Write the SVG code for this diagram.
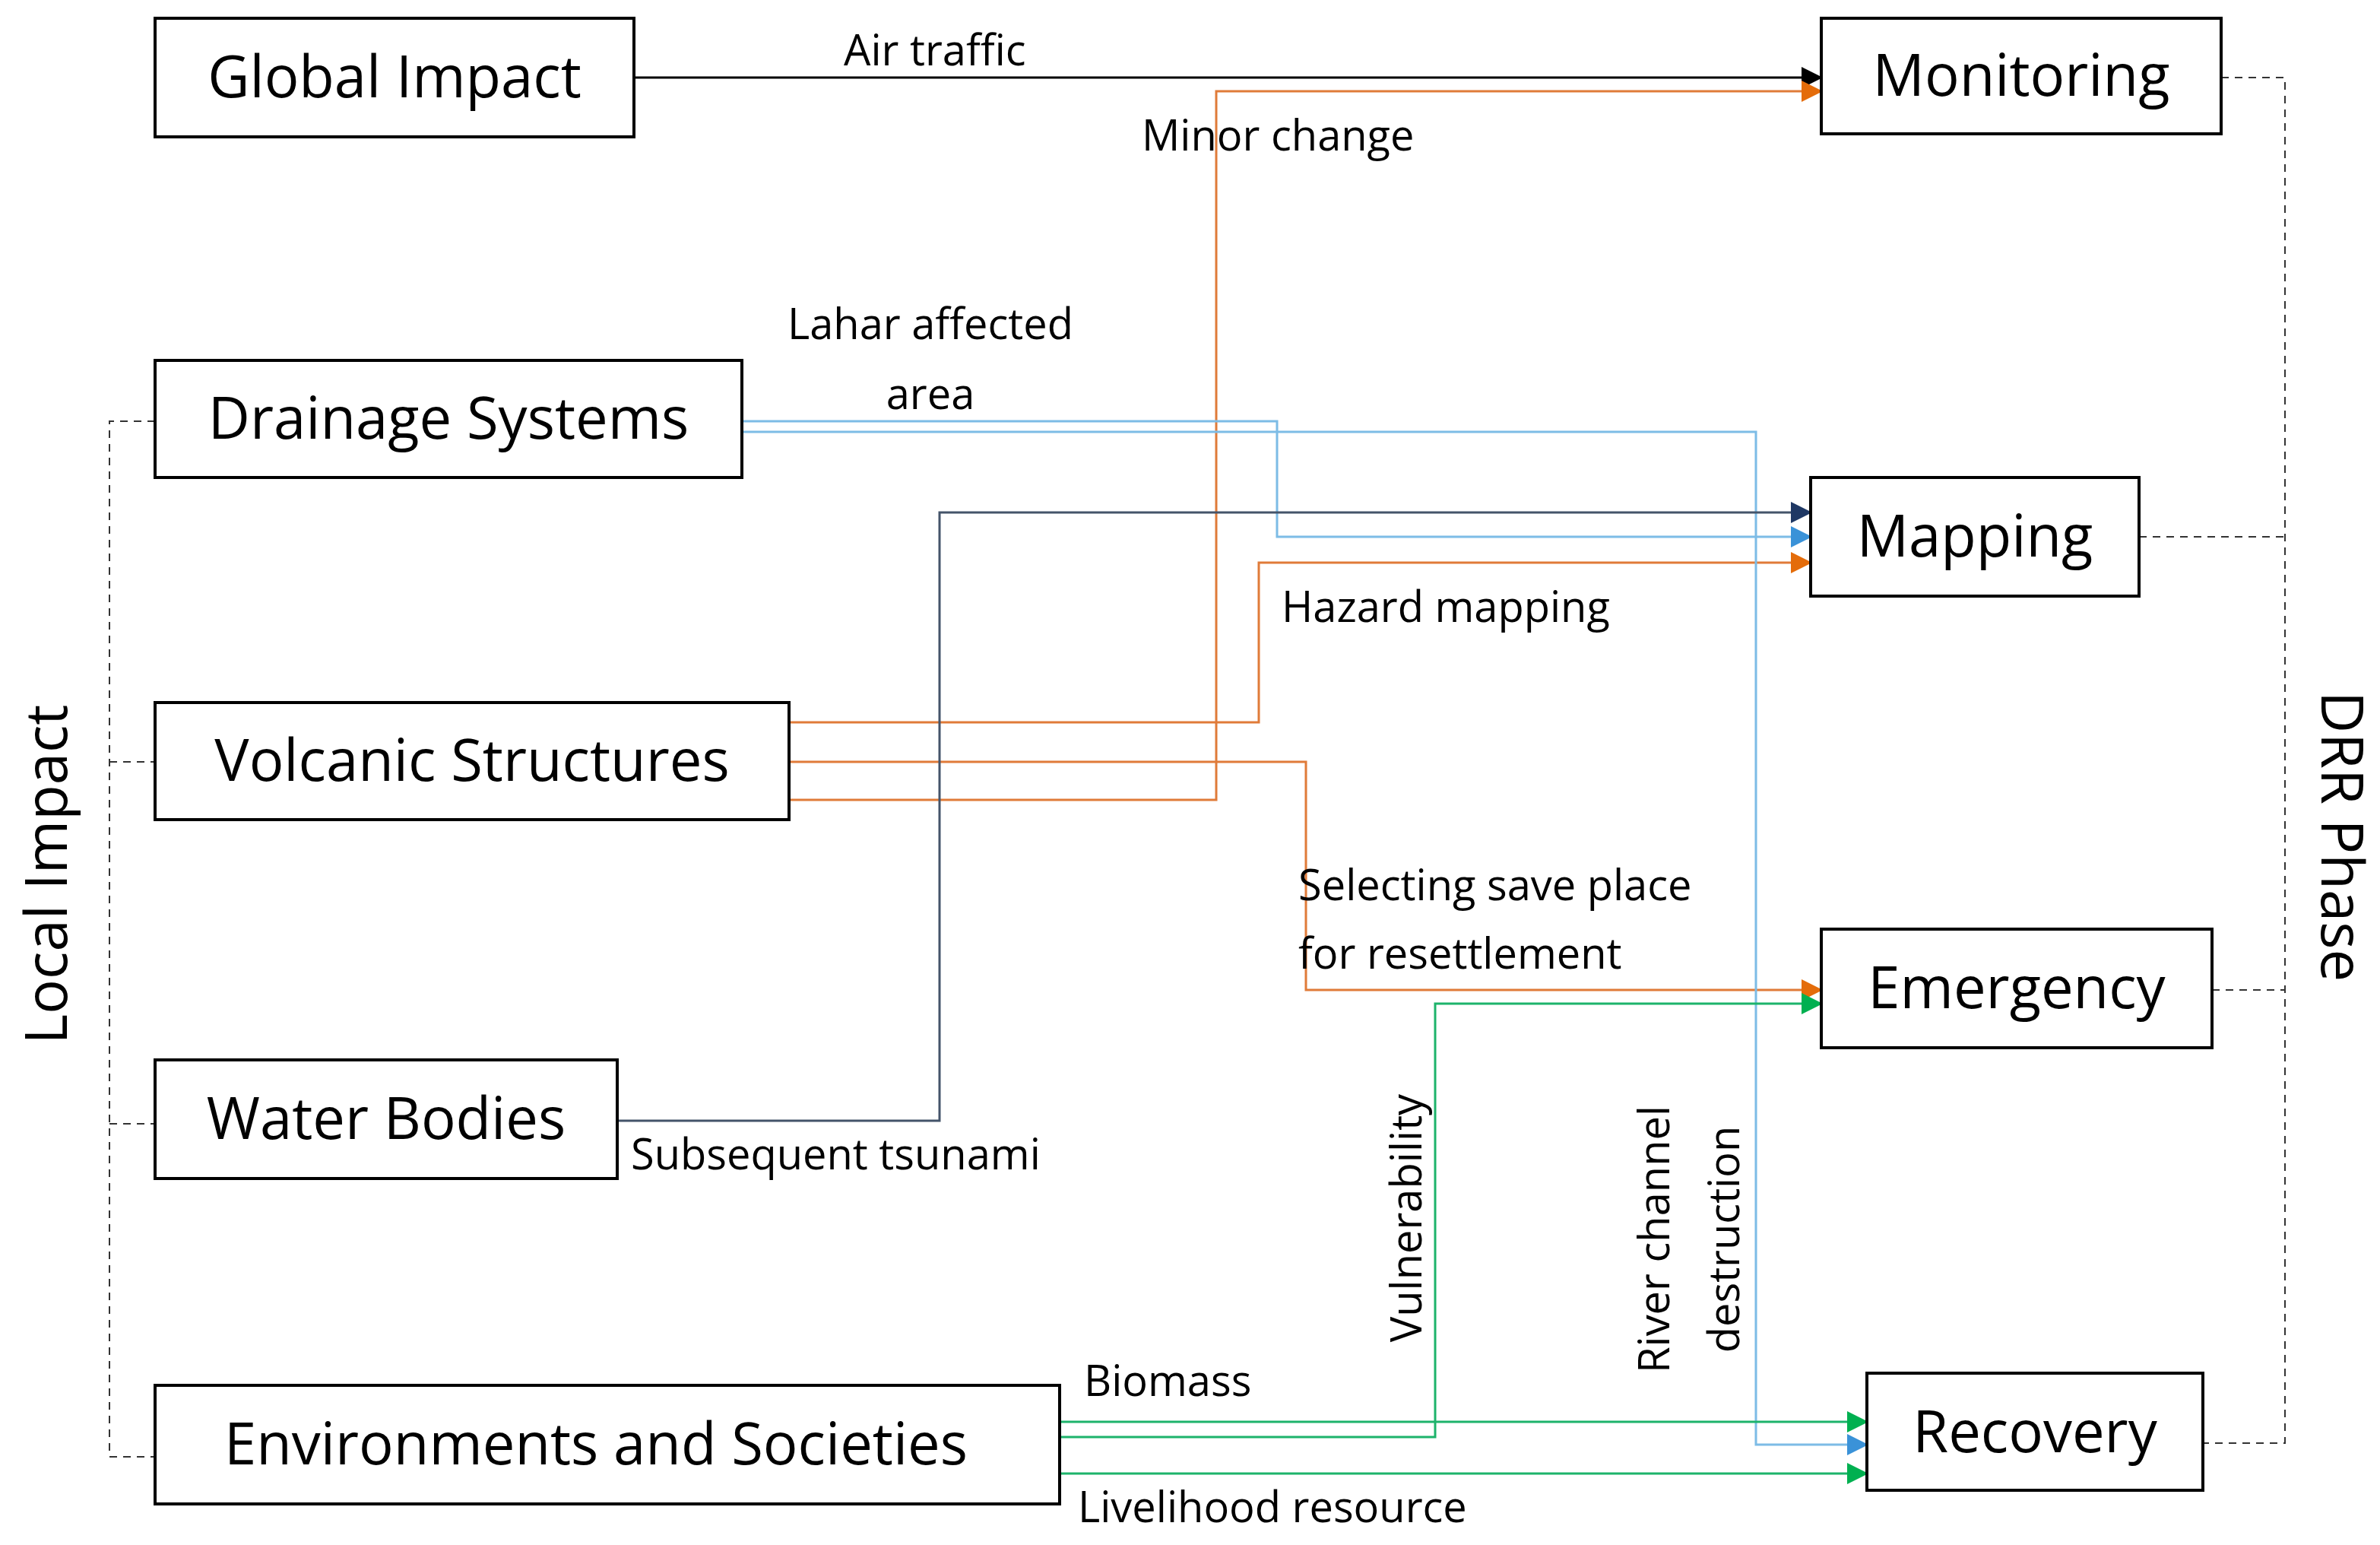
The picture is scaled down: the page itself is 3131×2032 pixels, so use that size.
<svg xmlns="http://www.w3.org/2000/svg" width="3131" height="2032" viewBox="0 0 3131 2032">
<style>
.box{fill:#fff;stroke:#000;stroke-width:4}
.t{font-family:"Open Sans","DejaVu Sans",sans-serif;font-size:76px;fill:#000}
.l{font-family:"Open Sans","DejaVu Sans",sans-serif;font-size:56px;fill:#000}
.c{fill:none;stroke-width:3}
.d{fill:none;stroke:#333;stroke-width:2;stroke-dasharray:10 8}
</style>
<defs>
<marker id="ak" markerWidth="10" markerHeight="10" refX="9" refY="5" orient="auto" markerUnits="userSpaceOnUse" viewBox="0 0 10 10"><path d="M0,0L10,5L0,10z" fill="#000"/></marker>
<marker id="ao" markerWidth="28" markerHeight="28" refX="26" refY="14" orient="auto" markerUnits="userSpaceOnUse"><path d="M0,0L28,14L0,28z" fill="#E46C0A"/></marker>
<marker id="ab" markerWidth="28" markerHeight="28" refX="26" refY="14" orient="auto" markerUnits="userSpaceOnUse"><path d="M0,0L28,14L0,28z" fill="#3A92D8"/></marker>
<marker id="an" markerWidth="28" markerHeight="28" refX="26" refY="14" orient="auto" markerUnits="userSpaceOnUse"><path d="M0,0L28,14L0,28z" fill="#1F3864"/></marker>
<marker id="ag" markerWidth="28" markerHeight="28" refX="26" refY="14" orient="auto" markerUnits="userSpaceOnUse"><path d="M0,0L28,14L0,28z" fill="#00B050"/></marker>
<marker id="akk" markerWidth="28" markerHeight="28" refX="26" refY="14" orient="auto" markerUnits="userSpaceOnUse"><path d="M0,0L28,14L0,28z" fill="#000"/></marker>
</defs>
<g id="connectors">
<path class="d" d="M204,554H144V1916H204M144,1002H204M144,1478H204"/>
<path class="d" d="M2922,102H3006V1898H2898M2814,706H3006M2910,1302H3006"/>
<path class="c" stroke="#000" d="M834,102H2396" marker-end="url(#akk)"/>
<path class="c" stroke="#E07B39" d="M1038,1052H1600V120H2396" marker-end="url(#ao)"/>
<path class="c" stroke="#E07B39" d="M1038,950H1656V740H2382" marker-end="url(#ao)"/>
<path class="c" stroke="#E07B39" d="M1038,1002H1718V1302H2396" marker-end="url(#ao)"/>
<path class="c" stroke="#7DBCE6" d="M976,554H1680V706H2382" marker-end="url(#ab)"/>
<path class="c" stroke="#7DBCE6" d="M976,568H2310V1900H2456" marker-end="url(#ab)"/>
<path class="c" stroke="#44546A" d="M812,1474H1236V674H2382" marker-end="url(#an)"/>
<path class="c" stroke="#1DB36B" d="M1394,1890H1888V1320H2396" marker-end="url(#ag)"/>
<path class="c" stroke="#1DB36B" d="M1394,1870H2456" marker-end="url(#ag)"/>
<path class="c" stroke="#1DB36B" d="M1394,1938H2456" marker-end="url(#ag)"/>
</g>
<g id="labels">
<text class="l" x="1110" y="86">Air traffic</text>
<text class="l" x="1502" y="198">Minor change</text>
<text class="l" x="1224" y="446" text-anchor="middle">Lahar affected</text>
<text class="l" x="1224" y="538" text-anchor="middle">area</text>
<text class="l" x="1686" y="818">Hazard mapping</text>
<text class="l" x="1708" y="1184">Selecting save place</text>
<text class="l" x="1708" y="1274">for resettlement</text>
<text class="l" x="830" y="1538">Subsequent tsunami</text>
<text class="l" x="1426" y="1836">Biomass</text>
<text class="l" x="1418" y="2002">Livelihood resource</text>
<text class="l" transform="translate(1870,1602) rotate(-90)" text-anchor="middle">Vulnerability</text>
<text class="l" transform="translate(2196,1630) rotate(-90)" text-anchor="middle">River channel</text>
<text class="l" transform="translate(2288,1630) rotate(-90)" text-anchor="middle">destruction</text>
<text class="t" transform="translate(88,1150) rotate(-90)" text-anchor="middle">Local Impact</text>
<text class="t" transform="translate(3054,1100) rotate(90)" text-anchor="middle">DRR Phase</text>
</g>
<g id="global"><rect class="box" x="204" y="24" width="630" height="156"/><text class="t" x="519" y="128" text-anchor="middle">Global Impact</text></g>
<g id="monitoring"><rect class="box" x="2396" y="24" width="526" height="152"/><text class="t" x="2659" y="126" text-anchor="middle">Monitoring</text></g>
<g id="drainage"><rect class="box" x="204" y="474" width="772" height="154"/><text class="t" x="590" y="577" text-anchor="middle">Drainage Systems</text></g>
<g id="mapping"><rect class="box" x="2382" y="628" width="432" height="156"/><text class="t" x="2598" y="732" text-anchor="middle">Mapping</text></g>
<g id="volcanic"><rect class="box" x="204" y="924" width="834" height="154"/><text class="t" x="621" y="1027" text-anchor="middle">Volcanic Structures</text></g>
<g id="emergency"><rect class="box" x="2396" y="1222" width="514" height="156"/><text class="t" x="2653" y="1326" text-anchor="middle">Emergency</text></g>
<g id="water"><rect class="box" x="204" y="1394" width="608" height="156"/><text class="t" x="508" y="1498" text-anchor="middle">Water Bodies</text></g>
<g id="env"><rect class="box" x="204" y="1822" width="1190" height="156"/><text class="t" x="784" y="1926" text-anchor="middle">Environments and Societies</text></g>
<g id="recovery"><rect class="box" x="2456" y="1806" width="442" height="154"/><text class="t" x="2677" y="1910" text-anchor="middle">Recovery</text></g>
</svg>
